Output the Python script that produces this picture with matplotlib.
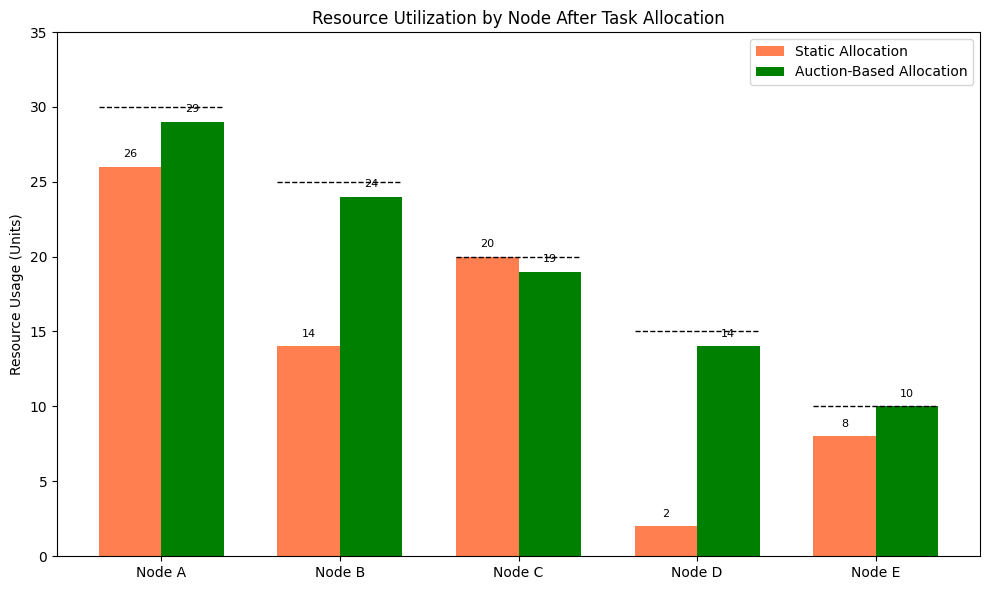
import matplotlib
matplotlib.use("Agg")
import matplotlib.pyplot as plt
import numpy as np

nodes = ["Node A", "Node B", "Node C", "Node D", "Node E"]
static_vals = [26, 14, 20, 2, 8]
auction_vals = [29, 24, 19, 14, 10]
capacity = [30, 25, 20, 15, 10]

x = np.arange(len(nodes))
w = 0.35

fig, ax = plt.subplots(figsize=(9.89, 5.9), dpi=100)
b1 = ax.bar(x - w/2, static_vals, w, color="coral", label="Static Allocation")
b2 = ax.bar(x + w/2, auction_vals, w, color="green", label="Auction-Based Allocation")

for xi, c in zip(x, capacity):
    ax.hlines(c, xi - w, xi + w, colors="black", linestyles="dashed", linewidth=1)

for bars in (b1, b2):
    for b in bars:
        h = b.get_height()
        ax.text(b.get_x() + b.get_width()/2, h + 0.5, f"{h:g}", ha="center", va="bottom", fontsize=8)

ax.set_xticks(x)
ax.set_xticklabels(nodes)
ax.set_ylim(0, 35)
ax.set_ylabel("Resource Usage (Units)")
ax.set_title("Resource Utilization by Node After Task Allocation")
ax.legend(loc="upper right")
fig.subplots_adjust(left=57/989, right=980/989, top=1 - 32/590, bottom=1 - 556/590)
fig.savefig("out.png", dpi=100)
